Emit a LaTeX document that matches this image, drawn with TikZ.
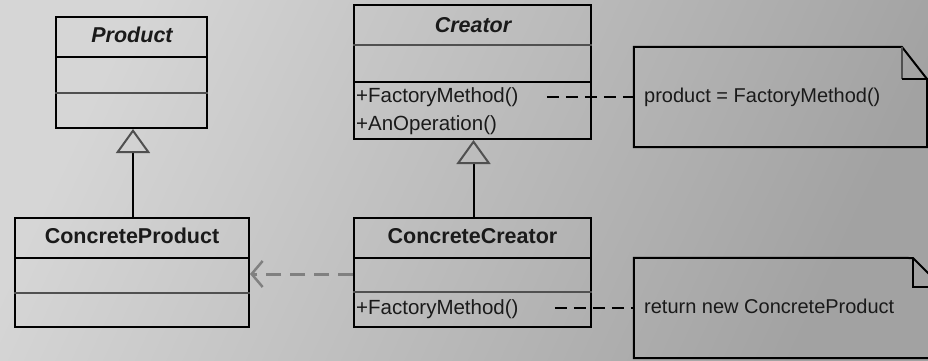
\documentclass[tikz,border=0pt]{standalone}
\usepackage{fontspec}
\setmainfont{Liberation Sans}
\usetikzlibrary{arrows.meta}
\definecolor{bglight}{HTML}{D6D6D6}
\definecolor{bgdark}{HTML}{A2A2A2}
\definecolor{sepgray}{HTML}{505050}
\definecolor{depgray}{HTML}{808080}
\definecolor{txt}{HTML}{1A1A1A}
\begin{document}
\begin{tikzpicture}[x=1pt,y=-1pt,
  cls/.style={draw=black,line width=2pt,rectangle,inner sep=0pt},
  cmp/.style={line width=2pt,draw=black},
  cmpg/.style={line width=2.5pt,draw=sepgray},
  title/.style={font=\fontsize{21.5}{24}\selectfont\bfseries,text=txt,anchor=base,inner sep=0pt},
  ititle/.style={font=\fontsize{21.5}{24}\selectfont\bfseries\itshape,text=txt,anchor=base,inner sep=0pt},
  op/.style={font=\fontsize{20.5}{24}\selectfont,text=txt,anchor=base west,inner sep=0pt},
  notetext/.style={font=\fontsize{20}{24}\selectfont,text=txt,anchor=base west,inner sep=0pt},
  notebox/.style={rectangle,inner sep=0pt},
  noteline/.style={draw=black,line width=2pt},
  gen/.style={draw=black,line width=2pt,-{Triangle[open,length=24pt,width=34pt,line width=2pt,color=sepgray]}},
  dep/.style={draw=depgray,line width=3pt,dash pattern=on 15pt off 9pt,-{Straight Barb[length=11pt,width=26pt,line width=2.5pt]}},
  anchorline/.style={draw=black,line width=2pt,dash pattern=on 12pt off 7pt}
]
\useasboundingbox (0,0) rectangle (928,361);
\shade[top color=bglight,bottom color=bgdark,shading angle=65] (0,0) rectangle (928,361);

\begin{scope}
\clip (0,0) rectangle (928,361);

% classes
\node[cls,minimum width=151pt,minimum height=111pt] (prod) at (131.5,72.5) {};
\node[cls,minimum width=237pt,minimum height=134pt] (crea) at (472.5,72) {};
\node[cls,minimum width=234pt,minimum height=109pt] (cprod) at (132,272.5) {};
\node[cls,minimum width=237pt,minimum height=109pt] (ccrea) at (472.5,272.5) {};

% compartments
\draw[cmp] (prod.west |- 0,57) -- (prod.east |- 0,57);
\draw[cmpg] (prod.west |- 0,93) -- (prod.east |- 0,93);
\draw[cmpg] (crea.west |- 0,45) -- (crea.east |- 0,45);
\draw[cmp] (crea.west |- 0,82) -- (crea.east |- 0,82);
\draw[cmp] (cprod.west |- 0,258) -- (cprod.east |- 0,258);
\draw[cmpg] (cprod.west |- 0,293) -- (cprod.east |- 0,293);
\draw[cmp] (ccrea.west |- 0,258) -- (ccrea.east |- 0,258);
\draw[cmpg] (ccrea.west |- 0,292) -- (ccrea.east |- 0,292);

% titles
\node[ititle] (tprod) at (132,43) {Product};
\node[ititle] (tcrea) at (473,33) {Creator};
\node[title] (tcprod) at (132,243) {ConcreteProduct};
\node[title] (tccrea) at (472.5,243) {ConcreteCreator};

% operations
\node[op] (fm1) at (356,102) {+FactoryMethod()};
\node[op] (aop) at (356,130) {+AnOperation()};
\node[op] (fm2) at (356,314) {+FactoryMethod()};

% notes
\node[notebox,minimum width=293pt,minimum height=100pt] (note1) at (780.5,97) {};
\draw[noteline] (note1.south west) -- (note1.north west) -- (902,47) -- (927,79) -- (note1.east |- 0,79) -- (note1.south east) -- cycle;
\draw[line width=2pt,draw=sepgray] (902,47) -- (902,79);
\draw[noteline] (902,79) -- (927,79);
\node[notetext] (n1txt) at (644,102) {product = FactoryMethod()};

\node[notebox,minimum width=311pt,minimum height=100pt] (note2) at (789.5,308) {};
\draw[noteline] (note2.south west) -- (note2.north west) -- (913,258) -- (945,290) -- (note2.east |- 0,290) -- (note2.south east) -- cycle;
\draw[noteline] (913,258) -- (913,287) -- (945,287);
\node[notetext] (n2txt) at (644,313) {return new ConcreteProduct};

% relations
\draw[gen] (cprod.north -| 133,0) -- (prod.south -| 133,0);
\draw[gen] (ccrea.north -| 473.5,0) -- (crea.south -| 473.5,0);
\draw[dep] (ccrea.west |- 0,274) -- (cprod.east |- 0,274);
\draw[anchorline] ([xshift=28pt]fm1.east |- note1.west) -- (note1.west);
\draw[anchorline] ([xshift=36pt]fm2.east |- note2.west) -- (note2.west);
\end{scope}
\end{tikzpicture}
\end{document}
